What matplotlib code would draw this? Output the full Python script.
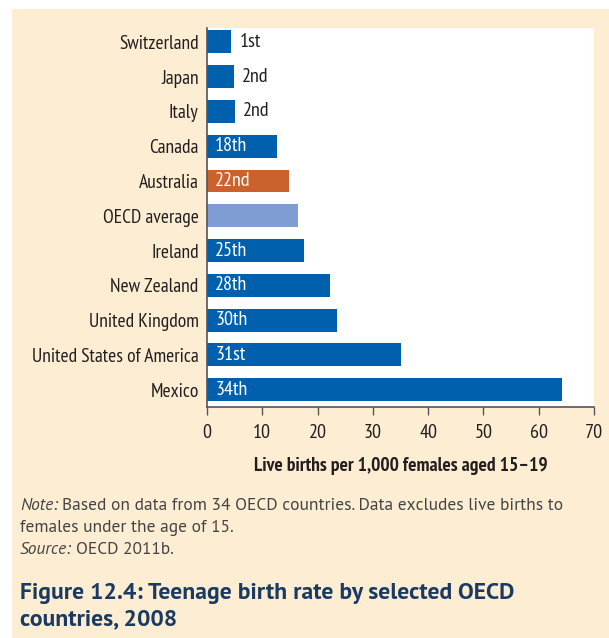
import matplotlib
matplotlib.use("Agg")
import matplotlib.pyplot as plt
from matplotlib import font_manager

# ------------------------------------------------------------------
# Data
# ------------------------------------------------------------------
countries = ["Switzerland", "Japan", "Italy", "Canada", "Australia",
             "OECD average", "Ireland", "New Zealand", "United Kingdom",
             "United States of America", "Mexico"]
rates = [4.4, 4.8, 5.0, 12.6, 14.9, 16.4, 17.5, 22.3, 23.6, 35.1, 64.3]
ranks = ["1st", "2nd", "2nd", "18th", "22nd", "", "25th", "28th",
         "30th", "31st", "34th"]
x_ticks = [0, 10, 20, 30, 40, 50, 60, 70]

BLUE = "#0060ae"
ORANGE = "#cb622e"
LIGHT = "#7f9dd3"
BEIGE = "#fdeed3"
INK = "#231f20"
NAVY = "#1b3a63"

installed = {f.name for f in font_manager.fontManager.ttflist}


def pick(*names):
    return [n for n in names if n in installed] + ["DejaVu Sans"]


narrow = pick("PT Sans Narrow", "Fira Sans Condensed", "Roboto Condensed")
body = pick("PT Sans", "Open Sans")

colors = [ORANGE if c == "Australia" else LIGHT if c == "OECD average" else BLUE
          for c in countries]

fig = plt.figure(figsize=(6.09, 6.38), dpi=100)
fig.patch.set_facecolor("white")

# beige panel behind everything
bg = fig.add_axes([12 / 609, 0, 1 - 12 / 609, 1 - 9 / 638], zorder=-1)
bg.set_facecolor(BEIGE)
bg.set_xticks([])
bg.set_yticks([])
for s in bg.spines.values():
    s.set_visible(False)

# axes: x 207..594 px, y 28..407 px
ax = fig.add_axes([207 / 609, 1 - 407 / 638, 387 / 609, 379 / 638], zorder=1)
ax.set_facecolor("white")
ypos = list(range(len(countries)))
ax.barh(ypos, rates, height=0.66, color=colors, zorder=2)

for y, v, r in zip(ypos, rates, ranks):
    if not r:
        continue
    if v < 8:
        ax.text(v + 1.5, y, r, va="center", ha="left", color=INK,
                fontsize=14.5, family=narrow)
    else:
        ax.text(1.5, y, r, va="center", ha="left", color="white",
                fontsize=14.5, family=narrow)

ax.set_xlim(0, 70)
ax.set_ylim(10.5, -0.4)
ax.set_yticks(ypos)
ax.set_yticklabels(countries, fontsize=14, family=narrow, color=INK)
ax.set_xticks(x_ticks)
ax.set_xticklabels([str(t) for t in x_ticks], fontsize=14.5, family=narrow,
                   color=INK)
ax.tick_params(axis="y", length=0, pad=6)
ax.tick_params(axis="x", length=6, width=1, color="#555555", pad=6,
               direction="out")
for s in ["top", "right"]:
    ax.spines[s].set_visible(False)
for s in ["left", "bottom"]:
    ax.spines[s].set_color("#555555")
    ax.spines[s].set_linewidth(1.2)

ax.set_xlabel("Live births per 1,000 females aged 15\u201319", fontsize=14,
              family=narrow, fontweight="bold", color=INK, labelpad=11)

# notes and caption
note_kw = dict(fontsize=12.5, color="#444444", family=body, va="center")
note = fig.text(20 / 609, 1 - 506 / 638, "Note:", style="italic", **note_kw)
ax.annotate("Based on data from 34 OECD countries. Data excludes live births to",
            xy=(1, 0.5), xycoords=note, xytext=(3, 0),
            textcoords="offset points", ha="left", **note_kw)
fig.text(20 / 609, 1 - 528 / 638, "females under the age of 15.", **note_kw)
src = fig.text(20 / 609, 1 - 550 / 638, "Source:", style="italic", **note_kw)
ax.annotate("OECD 2011b.", xy=(1, 0.5), xycoords=src, xytext=(3, 0),
            textcoords="offset points", ha="left", **note_kw)

fig.text(20 / 609, 1 - 593 / 638,
         "Figure 12.4: Teenage birth rate by selected OECD",
         fontsize=17, fontweight="bold", color=NAVY, family=body,
         va="center")
fig.text(20 / 609, 1 - 620 / 638, "countries, 2008",
         fontsize=17, fontweight="bold", color=NAVY, family=body,
         va="center")

fig.savefig("out.png", dpi=100)
